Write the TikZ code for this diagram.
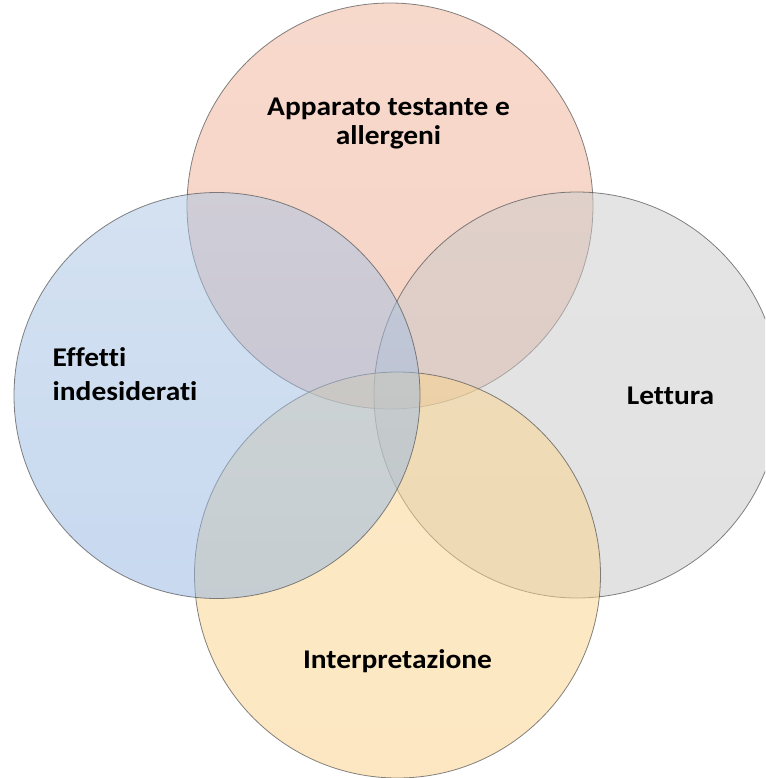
\documentclass[tikz,border=0pt]{standalone}
\usepackage{fontspec}
\setmainfont[Ligatures=NoCommon, FakeStretch=1.09]{Carlito}
\definecolor{cTopA}{RGB}{240,180,155}
\definecolor{cTopB}{RGB}{238,170,140}
\definecolor{cRightA}{RGB}{203,203,203}
\definecolor{cRightB}{RGB}{198,198,198}
\definecolor{cBotA}{RGB}{251,213,140}
\definecolor{cBotB}{RGB}{251,209,134}
\definecolor{cLeftA}{RGB}{170,197,228}
\definecolor{cLeftB}{RGB}{145,180,226}
\definecolor{edge}{RGB}{90,90,90}
\tikzset{
  vcircle/.style={draw=edge, draw opacity=0.75, line width=0.8pt, fill opacity=0.5},
  vlabel/.style={font=\fontsize{27}{29}\selectfont\bfseries, text=black, inner sep=0pt}
}
\begin{document}
\begin{tikzpicture}[x=1pt,y=-1pt]
\useasboundingbox (0,0) rectangle (765,778);
\clip (0,0) rectangle (765,778);
\fill[white] (0,0) rectangle (765,778);
\shade[vcircle, top color=cTopA, bottom color=cTopB] (390,206) circle (203);
\shade[vcircle, top color=cRightA, bottom color=cRightB] (577,395) circle (203);
\shade[vcircle, top color=cBotA, bottom color=cBotB] (397.5,575) circle (203);
\shade[vcircle, top color=cLeftA, bottom color=cLeftB] (217,395.5) circle (203);
\node[vlabel, align=center, anchor=base] (top) at (388.5,145) {Apparato testante e\\allergeni};
\node[vlabel, anchor=base] (right) at (670.5,404) {Lettura};
\node[vlabel, anchor=base] (bot) at (397.5,668) {Interpretazione};
\node[vlabel, font=\fontsize{27}{33.5}\selectfont\bfseries, align=left, anchor=base west] (left) at (52.5,400) {Effetti\\indesiderati};
\end{tikzpicture}
\end{document}
